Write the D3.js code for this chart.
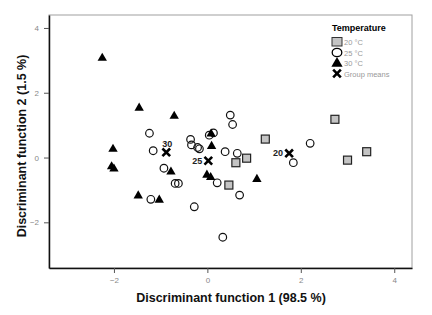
<!DOCTYPE html>
<html><head><meta charset="utf-8">
<script src="https://cdn.jsdelivr.net/npm/d3@7"></script>
<style>body{margin:0;background:#fff;}svg{display:block;font-family:"Liberation Sans",Arial,sans-serif;}</style>
</head><body>
<script>
// Data: discriminant scores (function 1, function 2)
const temp20 = [[1.24,0.57],[0.84,-0.02],[0.61,-0.16],[0.46,-0.85],[2.73,1.18],[3.41,0.18],[3.0,-0.08]];
const temp25 = [[-1.24,0.75],[-1.16,0.21],[-0.36,0.56],[-0.34,0.39],[-0.21,0.31],[-0.17,0.27],[0.04,0.69],[0.13,0.76],
  [0.49,1.31],[0.54,1.02],[0.38,0.18],[0.64,0.13],[2.20,0.44],[1.84,-0.16],[-0.93,-0.33],[-0.69,-0.80],[-0.62,-0.80],
  [-1.21,-1.29],[-0.28,-1.52],[0.21,-0.78],[0.69,-1.16],[0.33,-2.46]];
const temp30 = [[-2.25,3.07],[-1.46,1.53],[-0.71,1.28],[-2.02,0.26],[-2.05,-0.28],[-2.0,-0.35],[-1.48,-1.18],[-1.03,-1.31],
  [-0.78,-0.44],[0.09,0.35],[0.08,0.73],[-0.01,-0.54],[0.07,-0.61],[1.06,-0.67]];
const groupMeans = [["30",-0.88,0.16],["25",0.02,-0.10],["20",1.75,0.13]];
const xTicks = [-2,0,2,4];
const yTicks = [-2,0,2,4];
const legendLabels = ["20 °C","25 °C","30 °C","Group means"];

const W=432,H=315;
const svg=d3.select("body").append("svg").attr("width",W).attr("height",H);
const L=49,R=412,T=15,B=268;
const x=d3.scaleLinear().domain([-3.39,4.38]).range([L,R]);
const y=d3.scaleLinear().domain([-3.41,4.4]).range([B,T]);

// frame
svg.append("rect").attr("x",L).attr("y",T).attr("width",R-L).attr("height",B-T)
  .attr("fill","none").attr("stroke","#a0a0a0").attr("stroke-width",1);

const xa=svg.append("g").attr("transform",`translate(0,${B})`)
  .call(d3.axisBottom(x).tickValues(xTicks).tickSize(5).tickPadding(4).tickSizeOuter(0));
const ya=svg.append("g").attr("transform",`translate(${L},0)`)
  .call(d3.axisLeft(y).tickValues(yTicks).tickSize(5).tickPadding(5).tickSizeOuter(0));
[xa,ya].forEach(a=>{
  a.select(".domain").attr("stroke","#111").attr("stroke-width",1.5);
  a.selectAll(".tick line").attr("stroke","#555");
  a.selectAll(".tick text").attr("fill","#888").attr("font-size",8);
});

const g=svg.append("g");
// squares
g.selectAll("rect.s").data(temp20).join("rect").attr("class","s")
  .attr("x",d=>x(d[0])-4).attr("y",d=>y(d[1])-4).attr("width",8).attr("height",8)
  .attr("fill","#c4c4c4").attr("stroke","#222").attr("stroke-width",1.2);
// circles
g.selectAll("circle.c").data(temp25).join("circle").attr("class","c")
  .attr("cx",d=>x(d[0])).attr("cy",d=>y(d[1])).attr("r",3.8)
  .attr("fill","none").attr("stroke","#111").attr("stroke-width",1.2);
// triangles
const tri=d3.symbol().type(d3.symbolTriangle).size(38);
g.selectAll("path.t").data(temp30).join("path").attr("class","t")
  .attr("transform",d=>`translate(${x(d[0])},${y(d[1])})`).attr("d",tri).attr("fill","#000");
// group means
const cross=d3.symbol().type(d3.symbolX).size(40);
groupMeans.forEach(([lab,mx,my])=>{
  g.append("path").attr("transform",`translate(${x(mx)},${y(my)})`).attr("d",cross)
    .attr("stroke","#000").attr("stroke-width",2.6).attr("fill","none");
  const lx = lab==="30" ? x(mx)+1 : x(mx)-6;
  const ly = lab==="30" ? y(my)-5 : y(my)+3;
  g.append("text").attr("x",lx).attr("y",ly).attr("text-anchor",lab==="30"?"middle":"end")
    .attr("font-size",9).attr("font-weight","bold").attr("fill","#222").text(lab);
});

// legend
const lg=svg.append("g");
lg.append("text").attr("x",332).attr("y",31).attr("font-size",9).attr("font-weight","bold").text("Temperature");
const ly0=[42,52.5,63,73.5];
lg.append("rect").attr("x",332).attr("y",ly0[0]-4.5).attr("width",10).attr("height",8.5).attr("fill","#c4c4c4").attr("stroke","#333");
lg.append("ellipse").attr("cx",337).attr("cy",ly0[1]).attr("rx",4.8).attr("ry",4.2).attr("fill","none").attr("stroke","#000").attr("stroke-width",1.3);
lg.append("path").attr("transform",`translate(337,${ly0[2]+0.5})`).attr("d",d3.symbol().type(d3.symbolTriangle).size(55)).attr("fill","#000");
lg.append("path").attr("transform",`translate(337,${ly0[3]})`).attr("d",cross).attr("stroke","#000").attr("stroke-width",2.6);
lg.selectAll("text.l").data(legendLabels).join("text").attr("class","l")
  .attr("x",344).attr("y",(d,i)=>ly0[i]+3).attr("font-size",7.5).attr("fill","#999").text(d=>d);

// axis titles
svg.append("text").attr("x",231).attr("y",302).attr("text-anchor","middle")
  .attr("font-size",12.5).attr("font-weight","bold").attr("fill","#111").text("Discriminant function 1 (98.5 %)");
svg.append("text").attr("transform",`translate(26,${146}) rotate(-90)`).attr("text-anchor","middle")
  .attr("font-size",12.5).attr("font-weight","bold").attr("fill","#111").text("Discriminant function 2 (1.5 %)");
</script>
</body></html>
